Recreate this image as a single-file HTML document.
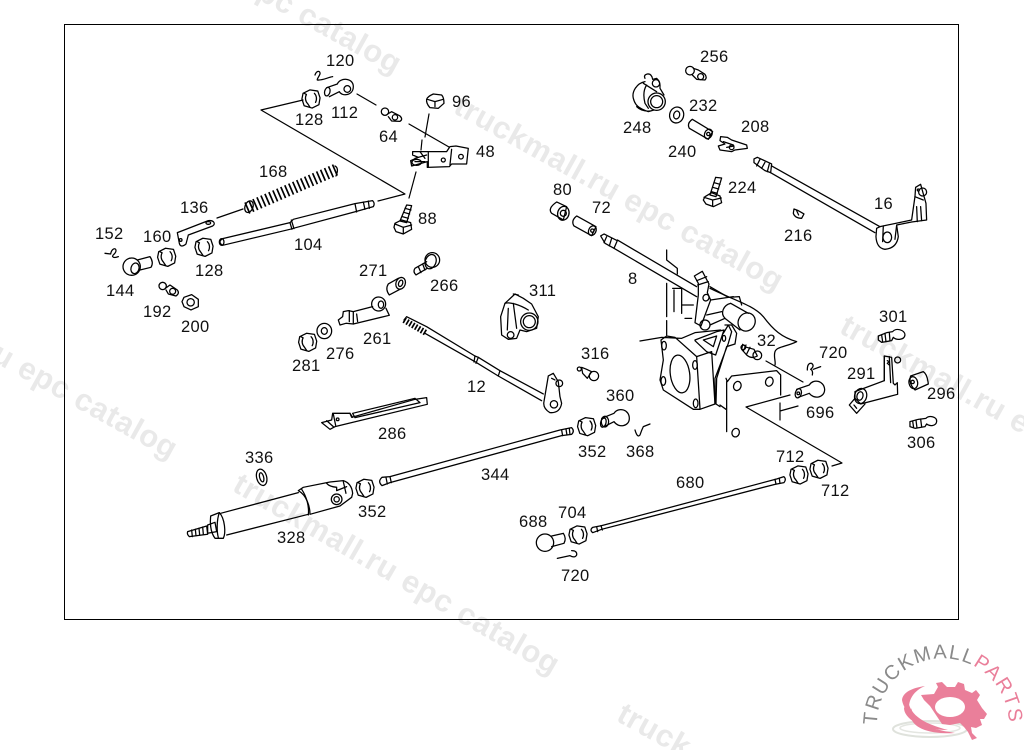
<!DOCTYPE html>
<html lang="en"><head><meta charset="utf-8"><title>Parts diagram</title>
<style>
html,body{margin:0;padding:0;background:#fff;width:1024px;height:750px;overflow:hidden}
svg{display:block;position:absolute;left:0;top:0}
.l text{font-family:"Liberation Sans",sans-serif;font-size:16.5px;fill:#111;letter-spacing:.3px}
.w text{font-family:"Liberation Sans",sans-serif;font-weight:bold;font-size:31px;fill:#e9e9e9;letter-spacing:.6px}
.p{fill:none;stroke:#000;stroke-width:1.2;stroke-linejoin:round;stroke-linecap:round}
.z{fill:none;stroke:#000;stroke-width:3.8;stroke-linejoin:round;stroke-linecap:round}
.z use{stroke-width:1.12}
</style></head><body>
<svg width="1024" height="750" viewBox="0 0 1024 750" xmlns="http://www.w3.org/2000/svg">
<defs>
<g id="nut"><path d="M-7,-5L-1,-8L6,-7L8,-1L7,5L1,8L-6,6L-8,0Z"/><path d="M-4,-4A5,6 0 0 0 -3,4M3,-5A5,6 0 0 1 4,3M-6,-5L-4,-4M-3,4L-1,7"/></g>
</defs>
<g class="w">
<text transform="translate(70 -105) rotate(29)">truckmall.ru epc catalog</text>
<text transform="translate(452 112) rotate(29)">truckmall.ru epc catalog</text>
<text transform="translate(231 490) rotate(30)">truckmall.ru epc catalog</text>
<text transform="translate(-154 280) rotate(29)">truckmall.ru epc catalog</text>
<text transform="translate(838 332) rotate(29)">truckmall.ru e</text>
<text transform="translate(615 720) rotate(29)">truck</text>
</g>
<rect x="64.5" y="24.5" width="894" height="595" fill="none" stroke="#000" stroke-width="1"/>

<!-- leaders -->
<g class="p">
<path d="M303,100L261,110L405,194L378,201"/>
<path d="M357,94L376,105M409,124L449,147M429,114L425,137M422,140L421,150M416,172L409,198M217,218L243,209"/>
<path d="M766,361L803,382M790,395L746,407L842,463L832,466M780,403V420M780,411L798,406"/>
</g>

<!-- zoom-1 parts -->
<g class="z" transform="translate(90 40) scale(.3333)">
<use href="#nut" transform="translate(663 177) scale(3.4)"/>
<path d="M675,105C680,90 692,92 690,102C686,112 680,118 682,120C695,122 715,112 728,110"/>
<path d="M710,143L742,132C750,112 790,112 790,140C790,168 755,170 748,155L718,170"/><ellipse cx="712" cy="155" rx="8" ry="13" transform="rotate(15 712 155)"/><circle cx="772" cy="147" r="10"/>
<circle cx="885" cy="215" r="11"/><path d="M893,222L905,215L930,228Q940,238 930,244L905,243L895,230"/><circle cx="915" cy="232" r="8"/>
<path d="M1010,178Q1012,170 1030,162L1055,165Q1062,172 1062,190L1045,205L1020,203Q1008,190 1010,178Z"/><path d="M1012,178L1035,185L1060,178M1035,185L1035,200"/>
<!-- 48 bracket -->
<path d="M968,335L1015,335L1070,335L1080,320L1098,318L1135,325L1130,372L1085,372L1078,380L1012,382L1012,365L965,378L962,362L985,352L968,345Z"/>
<path d="M1015,337V380M1085,328L1080,375M975,355L1010,345M975,365L1005,365M990,335L1005,355"/>
<circle cx="1060" cy="360" r="6"/><circle cx="1113" cy="350" r="7"/><ellipse cx="980" cy="367" rx="14" ry="9"/>
<!-- 168 spring -->
<path d="M470,505L740,388" stroke-width="36" stroke-dasharray="5 8" stroke-linecap="butt"/>
<ellipse cx="477" cy="500" rx="12" ry="18" transform="rotate(20 477 500)"/>
<path d="M735,378Q748,385 738,408"/>
<!-- 136 -->
<path d="M262,578L270,575L355,542C372,540 378,552 368,558L295,585L288,612Q272,625 268,610Z"/><ellipse cx="355" cy="549" rx="7" ry="4"/><circle cx="272" cy="600" r="4"/>
<!-- 104 -->
<path d="M398,596L600,548L610,538L795,491L848,482Q856,490 850,500L797,515L610,565L600,568L398,616Q382,606 398,596Z"/>
<path d="M600,548L606,568M604,540L612,566M795,491L800,516M820,486L825,508M835,483L838,505"/><ellipse cx="395" cy="606" rx="7" ry="10"/>
<!-- 88 -->
<path d="M950,495L965,497L950,548L930,543Z" /><path d="M945,505L963,510M941,517L959,522M937,530L955,535" />
<path d="M915,550L935,540L962,548L965,568L940,582L918,575L912,562Z"/><path d="M915,552L940,562L965,555M940,562L940,580"/>
<!-- 152 144 -->
<path d="M45,640L62,642C65,625 78,622 78,632C78,642 65,645 68,650C72,655 80,652 85,650"/>
<circle cx="125" cy="680" r="26"/><ellipse cx="135" cy="685" rx="12" ry="16" transform="rotate(15 135 685)"/><path d="M142,660L180,650Q192,668 183,682L150,690"/>
<use href="#nut" transform="translate(230 652) scale(3.4)"/>
<use href="#nut" transform="translate(342 622) scale(3.4)"/>
<circle cx="218" cy="738" r="11"/><path d="M226,745L240,735L262,750Q270,760 258,768L235,762L228,750"/><circle cx="248" cy="754" r="9"/>
<path d="M282,772L305,764L325,778L325,800L303,810L282,800L276,785Z"/><circle cx="302" cy="787" r="11"/>
<!-- 266 -->
<circle cx="1027" cy="660" r="22"/><ellipse cx="1022" cy="665" rx="16" ry="22" transform="rotate(20 1022 665)"/><path d="M1010,665L975,685Q968,695 978,705L1012,685" /><path d="M985,680L993,698M998,672L1005,690"/>
<!-- 271 -->
<ellipse cx="932" cy="730" rx="14" ry="18" transform="rotate(20 932 730)"/><path d="M925,715L895,732Q885,748 898,765L932,747"/><ellipse cx="932" cy="730" rx="6" ry="10" transform="rotate(20 932 730)"/>
<!-- 261 -->
<circle cx="866" cy="792" r="21"/><ellipse cx="873" cy="794" rx="8" ry="11"/>
<path d="M848,800L790,815L775,812L760,815L758,830L745,840L750,855L768,850L790,852L898,826L888,805"/><path d="M778,812V845M800,822L803,845M790,815L790,852"/>
</g>

<!-- zoom-2 parts -->
<g class="z" transform="translate(530 40) scale(.3333)">
<circle cx="480" cy="92" r="13"/><path d="M490,85L505,90L525,103Q532,112 525,120L500,118L487,105"/><circle cx="512" cy="110" r="9"/>
<!-- 248 -->
<path d="M345,115Q340,105 352,102Q365,100 368,118L380,115Q392,125 390,145L402,165"/><circle cx="380" cy="185" r="26"/><circle cx="380" cy="185" r="18"/>
<path d="M345,125C320,130 305,155 310,175C315,195 325,205 355,215L372,210M350,135C340,150 340,170 345,190L355,205M340,130L380,155M320,200Q335,215 360,213"/><circle cx="378" cy="130" r="11"/>
<ellipse cx="440" cy="225" rx="21" ry="24" transform="rotate(15 440 225)"/><ellipse cx="440" cy="225" rx="9" ry="12" transform="rotate(15 440 225)"/>
<path d="M487,238L548,275L535,298L478,265Q470,250 487,238Z"/><ellipse cx="535" cy="282" rx="11" ry="15" transform="rotate(25 535 282)"/><circle cx="535" cy="282" r="5"/>
<!-- 208 -->
<path d="M572,290L592,292L605,300L650,315L652,325L615,330L605,335L570,330L565,318L585,312L570,302Z"/><path d="M580,305L610,315M590,322L612,318"/><circle cx="605" cy="322" r="7"/>
<!-- 16 -->
<path d="M672,357L682,352L725,372L722,398L705,392L672,368Z"/><path d="M690,358L680,378M705,367L695,385M718,372L712,395"/>
<path d="M725,378L1050,560M722,398L1035,578"/>
<path d="M1050,560L1145,540L1155,470L1157,442L1172,433L1188,490L1190,540L1145,546L1100,555L1105,590Q1100,625 1065,628Q1040,625 1038,590L1040,565Z"/>
<path d="M1060,558L1058,605M1100,556L1095,598M1160,500L1162,545M1172,500L1175,542M1155,470L1180,480"/><ellipse cx="1072" cy="592" rx="13" ry="16"/><circle cx="1178" cy="456" r="12"/><circle cx="1165" cy="450" r="3"/>
<!-- 224 -->
<path d="M557,412L575,414L558,470L540,465Z"/><path d="M552,428L570,433M548,442L566,447M544,455L562,460"/>
<path d="M525,470L545,458L570,468L575,488L550,500L528,492L520,480Z"/><path d="M522,472L548,480L574,474M548,480L548,498"/>
<!-- 216 -->
<path d="M792,507L805,512L822,522L815,535Q795,535 790,520Z"/><path d="M800,512L806,525"/>
<!-- 80 -->
<path d="M80,486L110,500L100,540L65,520Q52,505 80,486Z"/><ellipse cx="100" cy="520" rx="17" ry="21" transform="rotate(15 100 520)"/><circle cx="100" cy="520" r="9"/>
<!-- 72 -->
<path d="M140,528L198,560L185,587L132,558Q122,542 140,528Z"/><ellipse cx="187" cy="572" rx="11" ry="15" transform="rotate(25 187 572)"/><circle cx="187" cy="572" r="5"/>
<!-- 8 -->
<path d="M212,588L222,582L262,602L252,625L225,610Z"/><path d="M230,590L222,608M245,595L238,618"/>
<path d="M262,600L500,740M252,625L500,770"/>
</g>

<!-- zoom-3 housing and right parts -->
<g class="z" transform="translate(600 250) scale(.3333)">
<path d="M200,0V30L232,55V72M200,100V200M200,212V255M218,115H245V190M222,120V185M245,165L280,165M255,205L275,205"/>
<!-- lever -->
<path d="M283,78L307,64L327,102L322,128L332,150L303,228L285,218L295,135L295,100Z"/><ellipse cx="318" cy="143" rx="9" ry="10" transform="rotate(25 318 143)"/><circle cx="315" cy="225" r="15"/>
<path d="M290,92L320,80M293,105L325,95"/>
<path d="M330,110L385,142L418,140L425,165M332,150L400,140M320,195L365,185M330,225L375,205"/>
<path d="M330,115C400,150 460,165 490,200C520,240 545,262 590,275C560,290 530,290 525,305C520,320 528,335 525,345"/>
<!-- cylinder -->
<path d="M392,160C370,165 360,190 375,205L420,240M392,160L445,190"/><ellipse cx="440" cy="216" rx="25" ry="28" transform="rotate(30 440 216)"/>
<!-- plate -->
<path d="M120,273L185,262L245,265L285,248L362,240M183,270L200,258L225,262L290,320L335,305L345,462L300,478L280,478L190,420L180,390L190,330Z"/>
<path d="M290,320L300,476"/>
<ellipse cx="240" cy="372" rx="29" ry="57" transform="rotate(-8 240 372)"/>
<ellipse cx="192" cy="287" rx="7" ry="13"/><ellipse cx="285" cy="345" rx="7" ry="13"/><ellipse cx="190" cy="393" rx="7" ry="13"/><ellipse cx="287" cy="460" rx="7" ry="13"/>
<path d="M285,270L350,245L372,240L347,315L320,305L285,272M310,270L350,258L340,290Z"/>
<!-- link -->
<path d="M375,225L395,225L410,250L405,282L380,290L350,385L348,462L360,470M370,250L385,225L395,245L385,280L345,385L345,462"/><ellipse cx="372" cy="265" rx="5" ry="9"/>
<!-- bracket -->
<path d="M378,385L382,395L395,378L530,362L542,375V435M380,395V545M360,465L378,478"/>
<ellipse cx="412" cy="408" rx="11" ry="14" transform="rotate(20 412 408)"/><ellipse cx="508" cy="395" rx="11" ry="14" transform="rotate(20 508 395)"/><ellipse cx="407" cy="548" rx="11" ry="13" transform="rotate(20 407 548)"/>
<!-- 32 -->
<path d="M428,283L440,292L462,298L472,318Q455,328 440,315L425,298Z"/><circle cx="472" cy="316" r="13"/><circle cx="430" cy="292" r="7"/><path d="M438,285L430,303M450,292L440,312"/>
<!-- 696 -->
<path d="M590,418L628,405C640,385 672,392 674,418C674,445 640,448 628,430L595,442"/><ellipse cx="595" cy="430" rx="9" ry="14" transform="rotate(15 595 430)"/><circle cx="595" cy="430" r="4"/>
<path d="M622,360Q622,338 635,340Q645,348 632,358Q640,362 637,375M640,358L662,350"/>
<!-- 360 -->
<path d="M5,505L42,490C55,470 88,478 88,505C88,530 55,535 42,515L12,530"/><ellipse cx="10" cy="518" rx="8" ry="14" transform="rotate(15 10 518)"/>
<path d="M105,540Q112,565 120,555Q125,540 130,530L150,522"/>
<!-- 291 -->
<path d="M853,318L875,322L880,400L885,405L892,398L893,433L782,462L765,445L765,425L853,392Z"/><path d="M853,318V392M868,320L872,398"/>
<ellipse cx="782" cy="438" rx="18" ry="23" transform="rotate(15 782 438)"/><ellipse cx="780" cy="438" rx="9" ry="13" transform="rotate(15 780 438)"/>
<path d="M765,445L748,465L770,490L795,462"/><circle cx="893" cy="330" r="9"/><path d="M862,332L868,335L862,340L868,345"/><path d="M762,465L770,475"/>
<!-- 301 -->
<path d="M835,258L860,248L878,245C888,232 915,240 915,255C913,270 890,272 880,262L875,272L845,277L835,270Z"/><path d="M845,255L848,275M855,250L858,275M868,247L870,272"/>
<!-- 296 -->
<path d="M932,378L970,365Q982,372 985,402L945,420Q925,400 932,378Z"/><ellipse cx="940" cy="398" rx="13" ry="18" transform="rotate(-10 940 398)"/><circle cx="938" cy="396" r="5"/>
<!-- 306 -->
<path d="M930,515L955,508L978,505C988,495 1012,500 1010,515C1008,528 990,530 980,522L975,530L945,535L930,530Z"/><path d="M938,513L941,533M948,510L951,533M962,507L965,530"/>
<!-- 712 -->
<use href="#nut" transform="translate(597 675) scale(3.4)"/>
<use href="#nut" transform="translate(657 658) scale(3.4)"/>
</g>

<!-- zoom-4 parts -->
<g class="z" transform="translate(170 270) scale(.3333)">
<use href="#nut" transform="translate(413 217) scale(3.4)"/>
<ellipse cx="463" cy="183" rx="22" ry="23"/><ellipse cx="463" cy="183" rx="9" ry="10"/>
<!-- 311 -->
<path d="M1035,72L1060,85L1085,102L1105,140L1100,175L1070,185L1050,180L1040,205L1015,208L995,195L992,140L1005,100Z"/>
<path d="M1005,100C1020,95 1050,105 1075,120M1015,115L1012,180M1030,100L1040,175"/><circle cx="1078" cy="155" r="26"/><circle cx="1078" cy="155" r="18"/><circle cx="1022" cy="195" r="10"/>
<path d="M1030,72L1045,75"/>
<!-- 12 -->
<path d="M702,150L710,140L770,170L915,258L925,262L990,302L1120,372M765,190L915,275L985,318L1115,392"/>
<path d="M702,150L770,190" stroke-width="18" stroke-dasharray="5 5" stroke-linecap="butt"/><path d="M915,258L912,276M925,262L918,280M990,302L985,318"/>
<path d="M1135,318L1150,310L1165,335L1170,380L1175,400Q1170,430 1140,428Q1118,415 1122,395Z"/><circle cx="1152" cy="403" r="11"/><circle cx="1168" cy="340" r="10"/><path d="M1145,325L1155,330"/>
<!-- 286 -->
<path d="M455,458L485,450L488,430L540,430L545,442L735,388L770,383L772,403L495,470L480,478Z"/><path d="M548,430L735,385L750,398L555,443Z"/><path d="M490,432L497,466M470,452L490,470M540,430L548,442"/><circle cx="503" cy="448" r="4"/>
<!-- 336 -->
<ellipse cx="275" cy="622" rx="15" ry="25" transform="rotate(-15 275 622)"/><ellipse cx="275" cy="622" rx="6" ry="14" transform="rotate(-15 275 622)"/>
<!-- 328 -->
<path d="M53,785L110,768L113,793L58,800Q50,793 53,785Z" /><path d="M65,780L67,800M76,778L78,797M87,775L89,795M98,771L100,793"/>
<path d="M113,765L135,757L140,785L113,790Z"/>
<path d="M122,738L148,728C165,745 168,790 160,805L135,805C120,785 120,755 122,738Z"/><path d="M148,728C140,750 140,785 145,803"/>
<path d="M152,730L385,668M170,795L415,733"/>
<path d="M385,662L400,652L480,636L520,632Q545,640 548,670L545,682L510,708L420,733C420,710 410,675 385,662Z"/><path d="M395,658C410,680 418,710 415,735"/><path d="M470,640Q478,650 500,652L500,662L530,650M520,635L528,670"/><circle cx="500" cy="688" r="16"/><circle cx="500" cy="688" r="8"/>
<use href="#nut" transform="translate(585 655) scale(3.4)"/>
<!-- 344 -->
<path d="M636,622L660,620L1170,480L1205,473Q1215,483 1205,493L1175,497L660,638L636,647Q622,635 636,622Z"/><path d="M648,622L652,642M660,620L664,638M1175,480L1178,497M1188,477L1191,495M1198,475L1200,493"/>
<use href="#nut" transform="translate(1250 470) scale(3.4)"/>
<ellipse cx="1305" cy="455" rx="11" ry="16"/>
<!-- 316 -->
<circle cx="1228" cy="297" r="6"/><path d="M1235,292L1250,298L1265,305L1252,325L1238,310Z"/><circle cx="1272" cy="318" r="14"/>
</g>

<!-- zoom-6 parts -->
<g class="z" transform="translate(500 440) scale(.3333)">
<circle cx="135" cy="308" r="26"/><path d="M155,288L190,280Q200,295 192,310L155,320"/>
<use href="#nut" transform="translate(234 285) scale(3.4)"/>
<path d="M172,355L210,347Q225,355 230,345Q232,332 215,332"/>
<path d="M278,262L305,257L830,117L852,110Q860,118 852,128L825,133L305,268L278,278Q268,270 278,262Z"/><path d="M290,260L293,275M303,257L307,270M825,118L828,132M838,115L840,130"/>
</g>

<!-- labels -->
<g class="l">
<text x="326" y="66">120</text><text x="295" y="125">128</text><text x="331" y="118">112</text><text x="379" y="142">64</text><text x="452" y="107">96</text><text x="476" y="157">48</text>
<text x="259" y="177">168</text><text x="180" y="213">136</text><text x="418" y="224">88</text><text x="95" y="239">152</text><text x="143" y="242">160</text><text x="294" y="250">104</text>
<text x="195" y="276">128</text><text x="106" y="296">144</text><text x="143" y="317">192</text><text x="181" y="332">200</text><text x="359" y="276">271</text><text x="430" y="291">266</text>
<text x="363" y="344">261</text><text x="292" y="371">281</text><text x="326" y="359">276</text><text x="529" y="296">311</text><text x="467" y="392">12</text><text x="581" y="359">316</text>
<text x="378" y="439">286</text><text x="245" y="463">336</text><text x="481" y="480">344</text><text x="358" y="517">352</text><text x="578" y="457">352</text><text x="277" y="543">328</text>
<text x="519" y="527">688</text><text x="558" y="518">704</text><text x="561" y="581">720</text><text x="676" y="488">680</text><text x="776" y="462">712</text><text x="821" y="496">712</text><text x="626" y="457">368</text>
<text x="700" y="62">256</text><text x="689" y="111">232</text><text x="623" y="133">248</text><text x="741" y="132">208</text><text x="668" y="157">240</text><text x="728" y="193">224</text>
<text x="553" y="195">80</text><text x="592" y="213">72</text><text x="874" y="209">16</text><text x="784" y="241">216</text><text x="628" y="284">8</text>
<text x="879" y="322">301</text><text x="757" y="346">32</text><text x="819" y="358">720</text><text x="847" y="379">291</text><text x="927" y="399">296</text><text x="907" y="448">306</text><text x="806" y="418">696</text><text x="606" y="401">360</text>
</g>

<!-- logo -->
<g>
<ellipse cx="930" cy="729" rx="37" ry="8" fill="none" stroke="#dfe2dc" stroke-width="2"/>
<ellipse cx="930" cy="728" rx="30" ry="5" fill="none" stroke="#e4e6e1" stroke-width="1.5"/>
<path d="M912,708C905,725 925,735 955,733C925,728 910,722 912,708Z" fill="#ea7f9a"/>
<path d="M904,708C904,718 920,730 948,730C925,724 910,716 908,700Z" fill="#ea7f9a"/>
<path d="M902,700C903,706 906,710 910,714C906,700 915,690 925,686C912,688 903,692 902,700Z" fill="#ea7f9a"/>
<path d="M924,700L921,695L934,694L938,687L936,683L942,682L947,687L955,687L958,682L964,684L965,690L972,693L976,690L980,695L977,700L982,708L987,714L984,719L980,719L982,725L976,728L971,727L972,733L977,738L972,740L968,732L964,727L960,723L950,725L942,724L936,715L930,706Z" fill="#ea7f9a"/>
<ellipse cx="950" cy="707" rx="15" ry="10" fill="#fff"/>
<defs><path id="arc" d="M877,725A66,66 0 1 1 1006,744"/></defs>
<text font-family="Liberation Sans,sans-serif" font-size="20" letter-spacing="1.5" fill="#8a8a8a"><textPath href="#arc">TRUCKMALL<tspan fill="#ea7f9a">PARTS</tspan></textPath></text>
</g>
</svg>
</body></html>
